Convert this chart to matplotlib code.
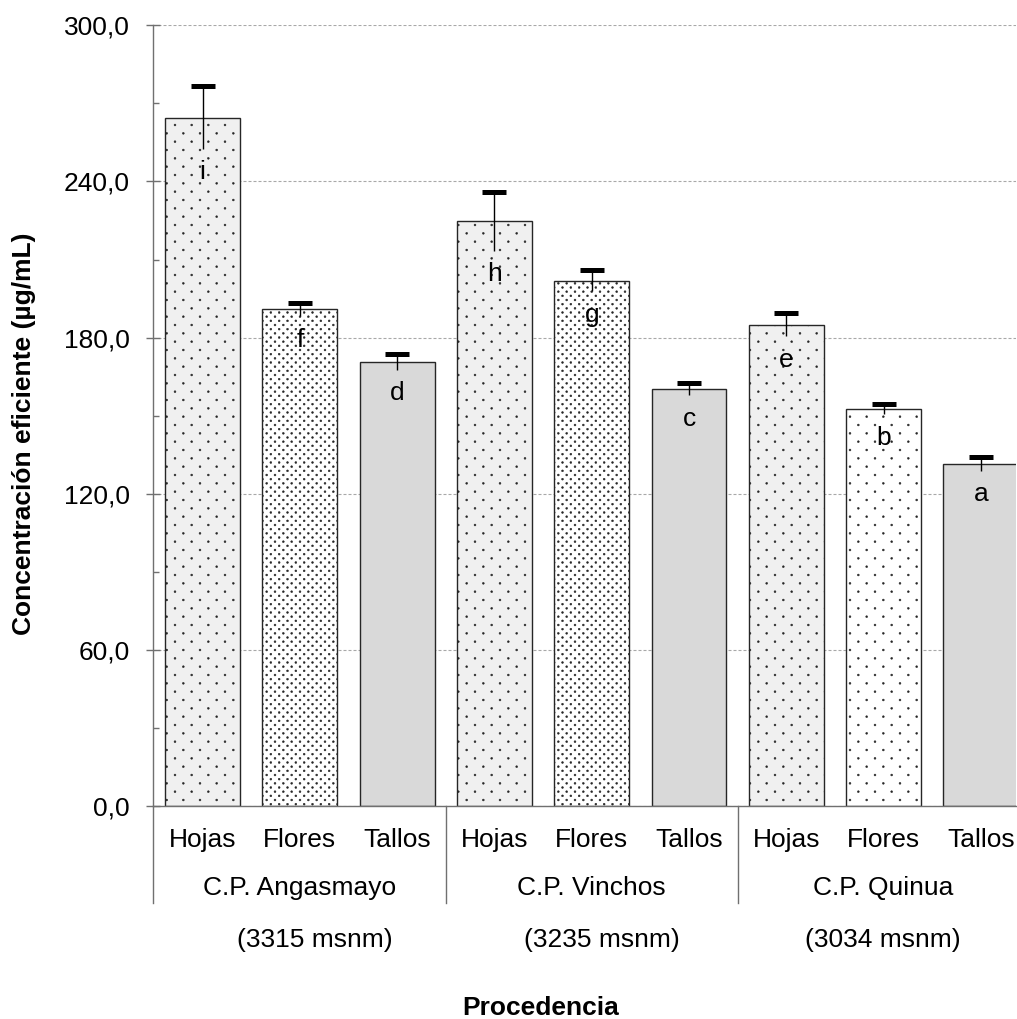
import numpy as np
import matplotlib
matplotlib.use("Agg")
import matplotlib.pyplot as plt
import matplotlib.hatch as mhatch
from matplotlib.path import Path
from matplotlib.ticker import FixedLocator, FixedFormatter, MultipleLocator
import matplotlib.transforms as mtransforms

# ---------------- data ----------------
groups = ["C.P. Angasmayo", "C.P. Vinchos", "C.P. Quinua"]
altitudes = ["(3315 msnm)", "(3235 msnm)", "(3034 msnm)"]
parts = ["Hojas", "Flores", "Tallos"]
values = [264.5, 190.8, 170.6, 224.7, 201.9, 160.2, 185.0, 152.4, 131.5]
errors = [12.0, 2.6, 3.0, 11.3, 4.1, 2.4, 4.5, 1.9, 2.6]
letters = ["i", "f", "d", "h", "g", "c", "e", "b", "a"]
ytick_values = [0, 60, 120, 180, 240, 300]
ytick_labels = ["0,0", "60,0", "120,0", "180,0", "240,0", "300,0"]
ylabel = "Concentración eficiente (µg/mL)"
xlabel = "Procedencia"

# ---------------- custom staggered dot hatch ----------------
class StaggeredDots(mhatch.HatchPatternBase):
    def __init__(self, hatch, density):
        n = hatch.count('.')
        self.cols = 6 * n
        self.rows = 2 * self.cols
        circ = Path.unit_circle()
        self.shape_vertices = circ.vertices
        self.shape_codes = circ.codes
        if n == 0:
            self.num_vertices = 0
        else:
            nshapes = (self.rows // 2 + 1) * (self.cols + 1) + (self.rows // 2) * self.cols
            self.num_vertices = nshapes * len(circ.vertices)

    def set_vertices_and_codes(self, vertices, codes):
        sv = self.shape_vertices * 0.009
        pv, pc = [], []
        for row in range(self.rows + 1):
            yy = row / self.rows
            if row % 2 == 0:
                xs = np.linspace(0, 1, self.cols + 1)
            else:
                xs = np.linspace(0.5 / self.cols, 1 - 0.5 / self.cols, self.cols)
            for xx in xs:
                pv.append(sv + [xx, yy])
                pc.append(self.shape_codes)
        np.concatenate(pv, out=vertices)
        np.concatenate(pc, out=codes)

mhatch._hatch_types = [StaggeredDots if t is mhatch.SmallFilledCircles else t
                       for t in mhatch._hatch_types]

plt.rcParams['font.family'] = ['Liberation Sans', 'DejaVu Sans']
plt.rcParams['hatch.linewidth'] = 0.4
plt.rcParams['hatch.color'] = 'black'

W, H = 1017, 1019
fig = plt.figure(figsize=(W / 100, H / 100), dpi=100)
ax_left, ax_right, ax_top, ax_bottom = 153, 1016, 25.3, 806
ax = fig.add_axes([ax_left / W, (H - ax_bottom) / H,
                   (ax_right - ax_left) / W, (ax_bottom - ax_top) / H])

x = np.arange(len(values))
facecolors = ['#f0f0f0', '#ffffff', '#d9d9d9'] * 3
hatches = ['.', '..', '', '.', '..', '', '.', '.', '']
vals = np.array(values)
errs = np.array(errors)

bars = ax.bar(x, vals, width=0.77, color=facecolors, edgecolor='#262626',
              linewidth=1.0, zorder=2)
for b, h in zip(bars, hatches):
    b.set_hatch(h)

ax.errorbar(x, vals, yerr=errs, fmt='none', ecolor='black', elinewidth=1.0,
            capsize=0, zorder=3)
ax.plot(x, vals + errs, ls='none', marker='_', ms=17.8, mew=3.6,
        color='black', zorder=4)

for xi, v, e, l in zip(x, vals, errs, letters):
    ax.annotate(l, xy=(xi, v - e), xytext=(0, -22), textcoords='offset points',
                ha='center', va='baseline', fontsize=19, zorder=5)

# axes styling
span = (ax_right - ax_left) / 97.3
ax.set_xlim(-0.509, -0.509 + span)
ax.set_ylim(0, 300)
for s in ['top', 'right']:
    ax.spines[s].set_visible(False)
for s in ['left', 'bottom']:
    ax.spines[s].set_color('#707070')
    ax.spines[s].set_linewidth(1.0)

ax.yaxis.set_major_locator(FixedLocator(ytick_values))
ax.yaxis.set_major_formatter(FixedFormatter(ytick_labels))
ax.yaxis.set_minor_locator(MultipleLocator(30))
ax.tick_params(axis='y', which='major', direction='inout', length=9.4,
               width=1.0, color='#707070', labelsize=19, pad=11.9)
ax.tick_params(axis='y', which='minor', direction='in', length=4.3,
               width=1.0, color='#707070')
ax.yaxis.grid(True, which='major', color='#a8a8a8', linewidth=0.8,
              linestyle=(0, (2.7, 1.8)))
ax.set_axisbelow(True)

ax.set_xticks(x, [parts[i % 3] for i in x])
ax.tick_params(axis='x', length=0, labelsize=19, pad=15.5)

trans = mtransforms.blended_transform_factory(ax.transData, ax.transAxes)
sep_x = [-0.509, 2.5, 5.5]
for sx in sep_x:
    ax.plot([sx, sx], [0, -0.124], transform=trans, color='#707070',
            linewidth=1.0, clip_on=False)

group_pos = [1.0, 4.0, 7.0]
alt_pos = [1.156, 4.10, 6.99]
for gp, g in zip(group_pos, groups):
    ax.text(gp, -0.114, g, transform=trans, ha='center', va='baseline',
            fontsize=19)
for ap, a in zip(alt_pos, altitudes):
    ax.text(ap, -0.180, a, transform=trans, ha='center', va='baseline',
            fontsize=19)

fig.text(540.5 / W, 4 / H, xlabel, ha='center', va='baseline',
         fontsize=19, fontweight='bold')
fig.text(24 / W, 1 - 434 / H, ylabel, rotation=90, ha='center', va='center',
         fontsize=19, fontweight='bold')

fig.savefig('out.png', dpi=100)
